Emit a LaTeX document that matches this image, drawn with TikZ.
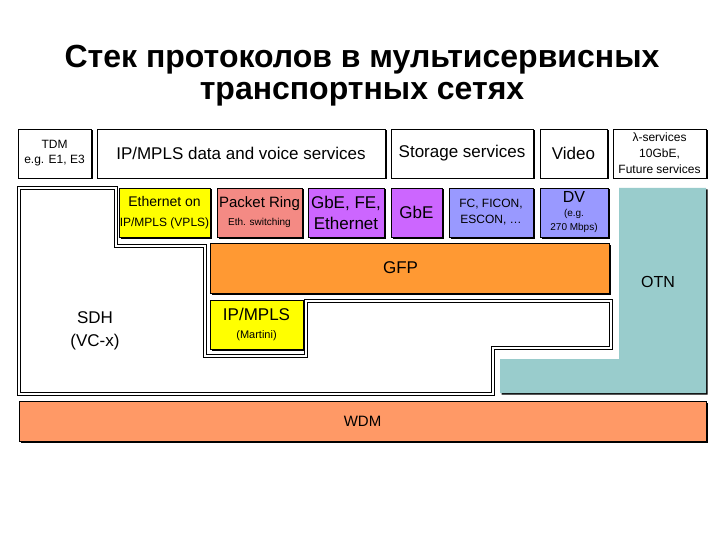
\documentclass[tikz,border=0pt]{standalone}
\usepackage{fontspec}
\setmainfont{Liberation Sans}
\usetikzlibrary{shadows}
\definecolor{cyel}{HTML}{FFFF00}
\definecolor{cpink}{HTML}{F48A84}
\definecolor{cviol}{HTML}{CC66FF}
\definecolor{cperi}{HTML}{9999FF}
\definecolor{cteal}{HTML}{99CCCC}
\definecolor{cgfp}{HTML}{FF9933}
\definecolor{cwdm}{HTML}{FF9966}
\newcommand{\fs}[1]{\fontsize{#1}{#1}\selectfont}
\newcommand{\sdhpath}{(19,188) -- (116,188) -- (116,246) -- (205,246) -- (205,356) -- (306,356)
  -- (306,301) -- (611,301) -- (611,348) -- (493,348) -- (493,394) -- (19,394) -- cycle}
\tikzset{
  shad/.style={general shadow={fill=black, shadow xshift=1.5pt, shadow yshift=-1.5pt}},
  box/.style={draw=black, line width=0.9pt, shad, inner sep=0pt, align=center},
  wbox/.style={box, fill=white},
  sdhouter/.style={draw=black, line width=3.2pt, line join=miter},
  sdhinner/.style={draw=white, line width=1.3pt, line join=miter},
}
\begin{document}
\begin{tikzpicture}[x=1pt,y=-1pt]
\useasboundingbox[fill=white] (0,0) rectangle (720,540);
% title
\node[anchor=base, font=\bfseries\fs{32}] (title1) at (362,68) {Стек протоколов в мультисервисных};
\node[anchor=base, font=\bfseries\fs{32}] (title2) at (362,100) {транспортных сетях};
% SDH region
\path[sdhouter] \sdhpath;
\path[sdhinner] \sdhpath;
% OTN region
\path[fill=cteal, shad] (619,188) -- (706,188) -- (706,393) -- (500,393) -- (500,359) -- (619,359) -- cycle;
\node[font=\fs{16}] (otn) at (658,282) {OTN};
\node[align=center, font=\fontsize{17}{23}\selectfont] (sdh) at (95,331) {SDH\\(VC-x)};
% top row
\node[wbox, minimum width=73pt, minimum height=49pt, font=\fontsize{12}{15}\selectfont] (tdm) at (54.5,153.5)
  {TDM\\e.g. E1, E3};
\node[wbox, minimum width=288pt, minimum height=49pt, font=\fs{17}] (ipv) at (241,153.5)
  {IP/MPLS data and voice services};
\node[wbox, minimum width=142pt, minimum height=49pt, font=\fs{17}] (stor) at (462,153.5)
  {Storage services};
\node[wbox, minimum width=67pt, minimum height=49pt, font=\fs{17}] (video) at (573.5,153.5)
  {Video};
\node[wbox, minimum width=93pt, minimum height=49pt, font=\fontsize{12}{16}\selectfont] (lam) at (659.5,153.5)
  {λ-services\\10GbE,\\Future services};
% second row
\node[box, fill=cyel, minimum width=91pt, minimum height=49pt, font=\fontsize{14}{20}\selectfont] (eth) at (164.5,212.5)
  {Ethernet on\\\fs{12}IP/MPLS (VPLS)};
\node[box, fill=cpink, minimum width=85pt, minimum height=49pt, font=\fontsize{15}{18}\selectfont] (pring) at (259.5,212.5)
  {Packet Ring\\\fs{10}Eth. switching};
\node[box, fill=cviol, minimum width=76pt, minimum height=49pt, font=\fontsize{17}{21}\selectfont] (gbefe) at (346,212.5)
  {GbE, FE,\\Ethernet};
\node[box, fill=cviol, minimum width=51pt, minimum height=49pt, font=\fs{17}] (gbe) at (416.5,212.5)
  {GbE};
\node[box, fill=cperi, minimum width=84pt, minimum height=49pt, font=\fontsize{12}{16}\selectfont] (fc) at (491,212.5)
  {FC, FICON,\\ESCON, \dots};
\node[box, fill=cperi, minimum width=68pt, minimum height=49pt, font=\fontsize{10}{14}\selectfont] (dv) at (574,212.5)
  {\fontsize{16}{17}\selectfont DV\\(e.g.\\270 Mbps)};
% GFP
\node[box, fill=cgfp, minimum width=399pt, minimum height=50pt, font=\fs{17}] (gfp) at (409.5,268)
  {\hspace*{-18pt}GFP};
% Martini
\node[box, fill=cyel, minimum width=93pt, minimum height=49pt, font=\fontsize{17}{18}\selectfont] (mart) at (256.5,324.5)
  {IP/MPLS\\\fs{11}(Martini)};
% WDM
\node[box, fill=cwdm, minimum width=687pt, minimum height=40pt, font=\fs{15}] (wdm) at (362.5,421)
  {WDM};
\end{tikzpicture}
\end{document}
